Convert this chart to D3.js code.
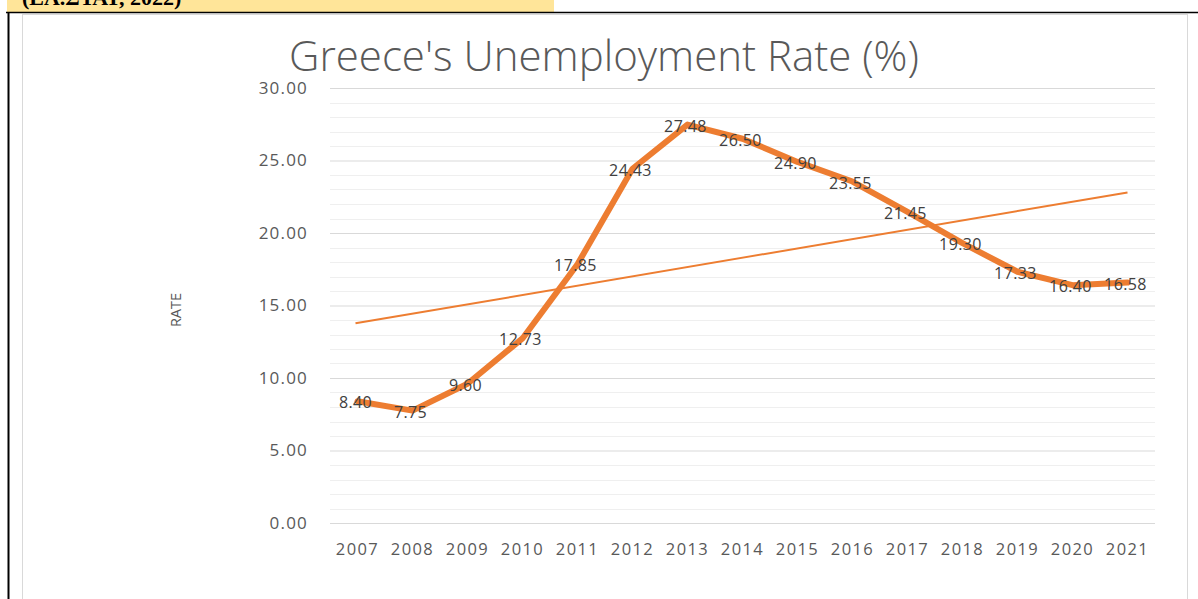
<!DOCTYPE html>
<html>
<head>
<meta charset="utf-8">
<script src="https://cdn.jsdelivr.net/npm/d3@7"></script>
<style>
  html, body { margin: 0; padding: 0; background: #fff; }
  svg { display: block; }
</style>
</head>
<body>
<svg id="chart" width="1198" height="599"></svg>
<script>
// Annual unemployment rate in Greece (%)
const years = ["2007","2008","2009","2010","2011","2012","2013","2014","2015","2016","2017","2018","2019","2020","2021"];
const rates = [8.40, 7.75, 9.60, 12.73, 17.85, 24.43, 27.48, 26.50, 24.90, 23.55, 21.45, 19.30, 17.33, 16.40, 16.58];
const yTicks = [0, 5, 10, 15, 20, 25, 30];

const svg = d3.select("#chart");
const W = 1198, H = 599;

// document strip above the chart
svg.append("rect").attr("x", 7).attr("y", 0).attr("width", 547).attr("height", 12).attr("fill", "#ffe599");
svg.append("text").attr("x", 22).attr("y", 5)
  .attr("font-family", "'Liberation Serif', serif").attr("font-size", 22).attr("font-weight", "bold")
  .attr("fill", "#000").text("(ΕΛ.ΣΤΑΤ, 2022)");
svg.append("line").attr("x1", 6).attr("x2", W).attr("y1", 12.5).attr("y2", 12.5).attr("stroke", "#000").attr("stroke-width", 1.5);
svg.append("line").attr("x1", 8.5).attr("x2", 8.5).attr("y1", 12).attr("y2", H).attr("stroke", "#000").attr("stroke-width", 2);

// chart frame
svg.append("rect").attr("x", 22.5).attr("y", 14.5).attr("width", 1165).attr("height", 600)
  .attr("fill", "#fff").attr("stroke", "#d9d9d9").attr("stroke-width", 1);

const plot = { left: 330, right: 1155, top: 88, bottom: 523 };

const x = d3.scaleBand().domain(years).range([plot.left, plot.right]);
const y = d3.scaleLinear().domain([0, 30]).range([plot.bottom, plot.top]);

// minor gridlines every 1.0
const minor = d3.range(0, 31, 1).filter(v => v % 5 !== 0);
svg.append("g").selectAll("line").data(minor).join("line")
  .attr("x1", plot.left).attr("x2", plot.right)
  .attr("y1", d => Math.round(y(d)) + 0.5).attr("y2", d => Math.round(y(d)) + 0.5)
  .attr("stroke", "#efefef").attr("stroke-width", 1);

// major gridlines + y axis labels
const yAxis = d3.axisLeft(y).tickValues(yTicks).tickFormat(d3.format(".2f"))
  .tickSize(-(plot.right - plot.left)).tickPadding(22);
const gy = svg.append("g").attr("transform", `translate(${plot.left},0)`).call(yAxis);
gy.select(".domain").remove();
gy.selectAll(".tick line").attr("stroke", "#d9d9d9").attr("stroke-width", 1);
gy.selectAll(".tick text")
  .attr("font-family", "'Open Sans', sans-serif").attr("font-size", 17).attr("letter-spacing", 1.2)
  .attr("fill", "#595959");

// x axis labels
const xAxis = d3.axisBottom(x).tickSize(0).tickPadding(20);
const gx = svg.append("g").attr("transform", `translate(0,${plot.bottom})`).call(xAxis);
gx.select(".domain").remove();
gx.selectAll(".tick text")
  .attr("font-family", "'Open Sans', sans-serif").attr("font-size", 16.5).attr("letter-spacing", 1.4)
  .attr("fill", "#595959");

// title
svg.append("text").attr("x", 604).attr("y", 71).attr("text-anchor", "middle")
  .attr("font-family", "'Open Sans', sans-serif").attr("font-weight", 300).attr("font-size", 42)
  .attr("fill", "#595959").text("Greece's Unemployment Rate (%)");

// axis title
svg.append("text").attr("transform", "translate(181,310) rotate(-90)").attr("text-anchor", "middle")
  .attr("font-family", "'Open Sans', sans-serif").attr("font-size", 14.5)
  .attr("fill", "#595959").text("RATE");

const cx = d => x(d) + x.bandwidth() / 2;

// least-squares linear trend over the series
const n = rates.length;
const idx = d3.range(1, n + 1);
const mx = d3.mean(idx), my = d3.mean(rates);
const slope = d3.sum(idx, (v, i) => (v - mx) * (rates[i] - my)) / d3.sum(idx, v => (v - mx) ** 2);
const trend = t => my + slope * (t - mx);
svg.append("line")
  .attr("x1", cx(years[0]) - 2).attr("y1", y(trend(1)))
  .attr("x2", cx(years[n - 1])).attr("y2", y(trend(n)))
  .attr("stroke", "#ed7d31").attr("stroke-width", 2);

// main series
const line = d3.line().x((d, i) => cx(years[i])).y(d => y(d));
svg.append("path").datum(rates).attr("d", line)
  .attr("fill", "none").attr("stroke", "#ed7d31").attr("stroke-width", 6)
  .attr("stroke-linejoin", "round").attr("stroke-linecap", "round");

// data labels
svg.append("g").selectAll("text").data(rates).join("text")
  .attr("x", (d, i) => cx(years[i]) - 2).attr("y", d => y(d) + 7)
  .attr("text-anchor", "middle")
  .attr("font-family", "'Open Sans', sans-serif").attr("font-size", 16).attr("letter-spacing", 0.4)
  .attr("fill", "#404040")
  .text(d => d.toFixed(2));
</script>
</body>
</html>
